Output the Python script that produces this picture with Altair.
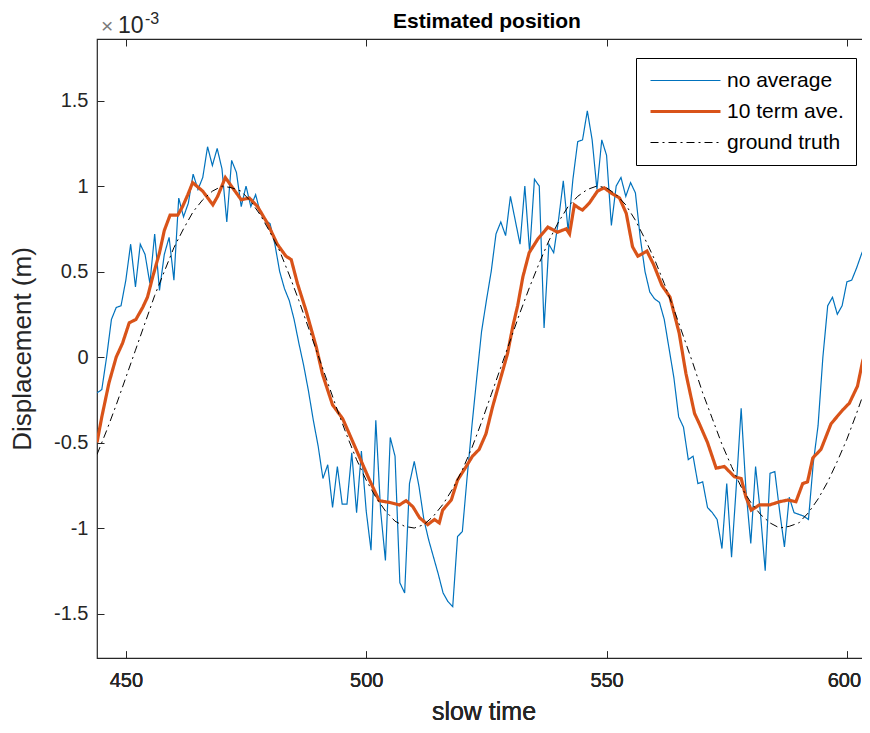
import altair as alt
import pandas as pd

FONT = "Liberation Sans"
AX = "#262626"

# ---------------- data (values in units of 1e-3 m) ----------------
blue_t = list(range(444, 606))
blue_v = [
    -0.21, -0.19, 0.00, 0.22, 0.29, 0.30, 0.45, 0.66, 0.41, 0.66,
    0.60, 0.43, 0.72, 0.39, 0.60, 0.70, 0.45, 0.93, 0.82, 0.90,
    1.07, 0.98, 1.05, 1.23, 1.12, 1.22, 1.10, 0.79, 1.15, 1.08,
    0.88, 1.00, 0.88, 0.95, 0.84, 0.80, 0.78, 0.66, 0.50, 0.40,
    0.33, 0.22, 0.08, -0.05, -0.20, -0.37, -0.52, -0.71, -0.63, -0.88,
    -0.64, -0.86, -0.86, -0.56, -0.91, -0.55, -0.90, -1.13, -0.37, -0.90,
    -1.19, -0.47, -0.58, -1.32, -1.38, -0.74, -0.61, -0.76, -0.95, -1.07,
    -1.17, -1.27, -1.38, -1.43, -1.46, -1.05, -1.02, -0.70, -0.40, -0.12,
    0.15, 0.33, 0.50, 0.72, 0.79, 0.71, 0.94, 0.80, 0.66, 1.00,
    0.61, 1.04, 1.00, 0.17, 0.66, 0.61, 0.80, 1.03, 0.74, 1.04,
    1.26, 1.27, 1.44, 1.27, 0.98, 1.27, 1.18, 0.77, 1.00, 1.05,
    0.94, 1.02, 0.96, 0.70, 0.50, 0.38, 0.34, 0.32, 0.22, 0.05,
    -0.12, -0.35, -0.41, -0.60, -0.58, -0.74, -0.73, -0.88, -0.91, -0.95,
    -1.12, -0.74, -1.17, -0.75, -0.30, -0.78, -1.09, -0.64, -0.91, -1.25,
    -0.68, -0.67, -0.90, -1.11, -0.82, -0.91, -0.92, -0.93, -0.95, -0.62,
    -0.40, 0.00, 0.30, 0.35, 0.25, 0.30, 0.44, 0.45, 0.52, 0.60,
    0.67, 0.72,
]

orange_t = [
    444.0, 445.0, 446.5, 448.0, 449.3, 450.7, 452.1, 453.5, 454.5, 455.6,
    457.0, 458.0, 459.2, 460.8, 461.8, 462.9, 463.9, 466.0, 468.1, 469.1,
    470.7, 472.2, 474.0, 475.7, 477.4, 479.5, 481.5, 483.3, 484.4, 485.7,
    487.5, 489.6, 490.9, 493.0, 495.1, 496.5, 497.9, 500.7, 502.7, 504.8,
    506.9, 508.3, 509.7, 511.1, 512.8, 514.2, 515.2, 515.9, 517.7, 519.0,
    520.8, 522.1, 523.5, 524.9, 526.3, 527.7, 529.4, 530.5, 531.5, 532.6,
    533.9, 535.7, 537.8, 539.8, 541.6, 542.3, 543.3, 544.3, 545.0, 546.4,
    548.1, 549.5, 550.9, 552.7, 554.1, 555.4, 556.5, 558.4, 559.8, 561.5,
    563.2, 565.1, 566.5, 568.3, 569.3, 571.0, 572.8, 574.5, 576.6, 578.0,
    579.0, 580.1, 581.8, 583.9, 586.0, 587.7, 589.4, 590.8, 591.8, 592.9,
    594.6, 596.7, 599.1, 600.5, 602.2, 603.3, 604.4, 605.0,
]
orange_v = [
    -0.50, -0.35, -0.15, 0.00, 0.08, 0.20, 0.22, 0.29, 0.35, 0.47,
    0.61, 0.74, 0.83, 0.83, 0.88, 0.95, 1.02, 0.97, 0.89, 0.94,
    1.05, 0.99, 0.92, 0.93, 0.88, 0.78, 0.66, 0.59, 0.57, 0.43,
    0.27, 0.06, -0.10, -0.28, -0.36, -0.45, -0.54, -0.72, -0.84, -0.85,
    -0.865, -0.84, -0.875, -0.94, -0.98, -0.95, -0.97, -0.895, -0.836, -0.72,
    -0.64, -0.58, -0.54, -0.45, -0.29, -0.15, 0.02, 0.18, 0.30, 0.47,
    0.61, 0.69, 0.76, 0.73, 0.75, 0.72, 0.89, 0.87, 0.86, 0.90,
    0.97, 0.99, 0.96, 0.93, 0.84, 0.645, 0.59, 0.62, 0.54, 0.42,
    0.35, 0.14, -0.095, -0.33, -0.39, -0.50, -0.65, -0.64, -0.70, -0.71,
    -0.82, -0.895, -0.865, -0.865, -0.846, -0.836, -0.846, -0.74, -0.73, -0.59,
    -0.54, -0.39, -0.31, -0.27, -0.17, -0.02, 0.05, 0.06,
]

truth_t = list(range(444, 607, 2))
truth_v = [
    -0.57, -0.43, -0.28, -0.12, 0.04, 0.20, 0.36, 0.50, 0.64, 0.75,
    0.85, 0.92, 0.97, 1.00, 0.99, 0.97, 0.91, 0.83, 0.73, 0.62,
    0.48, 0.33, 0.17, 0.01, -0.15, -0.31, -0.46, -0.60, -0.72, -0.82,
    -0.90, -0.96, -0.99, -1.00, -0.98, -0.93, -0.86, -0.77, -0.66, -0.53,
    -0.38, -0.22, -0.06, 0.10, 0.26, 0.41, 0.55, 0.68, 0.79, 0.88,
    0.94, 0.98, 1.00, 0.99, 0.95, 0.89, 0.80, 0.69, 0.57, 0.43,
    0.28, 0.12, -0.04, -0.21, -0.36, -0.51, -0.64, -0.76, -0.85, -0.92,
    -0.97, -1.00, -0.99, -0.97, -0.91, -0.83, -0.73, -0.61, -0.48, -0.33,
    -0.17, -0.01,
]

series_names = ["no average", "10 term ave.", "ground truth"]
series_colors = ["#0072BD", "#D95319", "#000000"]
series_dash = [[1, 0], [1, 0], [8, 4, 2, 4]]
series_width = [1.2, 3.2, 1.0]

x_ticks = [450, 500, 550, 600]
y_ticks = [-1.5, -1, -0.5, 0, 0.5, 1, 1.5]

df = pd.concat([
    pd.DataFrame({"t": blue_t, "v": blue_v, "series": series_names[0]}),
    pd.DataFrame({"t": orange_t, "v": orange_v, "series": series_names[1]}),
    pd.DataFrame({"t": truth_t, "v": truth_v, "series": series_names[2]}),
], ignore_index=True)

# ---------------- encodings ----------------
xs = alt.Scale(domain=[444.0, 604.8], nice=False, zero=False)
ys = alt.Scale(domain=[-1.76, 1.86], nice=False, zero=False)

x_bottom = alt.X(
    "t:Q", scale=xs,
    axis=alt.Axis(orient="bottom", values=x_ticks, title="slow time", offset=-7,
                  tickSize=7, domain=False, grid=False, labelFontSize=20,
                  labelFont=FONT, labelColor=AX, tickColor=AX, labelPadding=12,
                  labelOffset={"expr": "datum.value == 600 ? -3 : 0"},
                  titleFont=FONT, titleFontSize=25, titleFontWeight="normal",
                  titleColor=AX, titlePadding=9, labelFlush=False),
)
y_left = alt.Y(
    "v:Q", scale=ys,
    axis=alt.Axis(orient="left", values=y_ticks, title="Displacement (m)", offset=-7,
                  tickSize=7, domain=False, grid=False, labelFontSize=20,
                  labelFont=FONT, labelColor=AX, tickColor=AX, labelPadding=9,
                  labelExpr="'' + datum.value",
                  titleFont=FONT, titleFontSize=26, titleFontWeight="normal",
                  titleColor=AX, titlePadding=18, labelFlush=False),
)


def pick(vals):
    return ("datum.value === '%s' ? %s : (datum.value === '%s' ? %s : %s)"
            % (series_names[0], vals[0], series_names[1], vals[1], vals[2]))


leg = alt.Legend(
    title=None, orient="none", legendX=539, legendY=19,
    symbolType="M-5,0H5", symbolSize=196, symbolOffset=27,
    labelFontSize=21, labelFont=FONT,
    labelColor="black", strokeColor="black", fillColor="white",
    padding=12, rowPadding=9, labelOffset=31,
    symbolStrokeWidth={"expr": pick(series_width)},
    symbolDash={"expr": pick(series_dash)},
    symbolFillColor="transparent",
)

color_enc = alt.Color("series:N", scale=alt.Scale(domain=series_names, range=series_colors), legend=leg)


def line_layer(i):
    return (
        alt.Chart(df)
        .transform_filter(alt.datum.series == series_names[i])
        .mark_line(clip=True, strokeWidth=series_width[i], strokeDash=series_dash[i])
        .encode(x=x_bottom, y=y_left, color=color_enc, order="t:Q")
    )


top_ticks = (
    alt.Chart(pd.DataFrame({"t": truth_t, "v": truth_v}))
    .mark_line(opacity=0)
    .encode(
        x=alt.X("t:Q", scale=xs,
                axis=alt.Axis(orient="top", values=x_ticks, labels=False, title=None,
                              offset=-7, tickSize=7, domain=False, grid=False,
                              tickColor=AX)),
        y=y_left,
    )
)

one = pd.DataFrame({"k": [0]})
title_txt = alt.Chart(one).mark_text(
    text="Estimated position", font=FONT, fontSize=21, fontWeight="bold", color="black",
    align="center", baseline="alphabetic"
).encode(x=alt.value(390), y=alt.value(-11))
times_txt = alt.Chart(one).mark_text(
    text="×", font=FONT, fontSize=21, color="#7a7a7a", align="left", baseline="alphabetic"
).encode(x=alt.value(4), y=alt.value(-6))
ten_txt = alt.Chart(one).mark_text(
    text="10", font=FONT, fontSize=23, color=AX, align="left", baseline="alphabetic"
).encode(x=alt.value(21), y=alt.value(-6))
exp_txt = alt.Chart(one).mark_text(
    text="-3", font=FONT, fontSize=16, color=AX, align="left", baseline="alphabetic"
).encode(x=alt.value(48), y=alt.value(-15))

chart = (
    alt.layer(line_layer(0), line_layer(1), line_layer(2), top_ticks, title_txt,
              times_txt, ten_txt, exp_txt)
    .resolve_axis(x="independent")
    .properties(
        width=773, height=619,
        autosize=alt.AutoSizeParams(type="none"),
        padding={"left": 89, "top": 31, "right": -8, "bottom": 67},
        background="white",
    )
    .configure_view(stroke=AX, strokeWidth=1.2)
)

chart.save("out.html", embed_options={"renderer": "svg", "actions": False})
